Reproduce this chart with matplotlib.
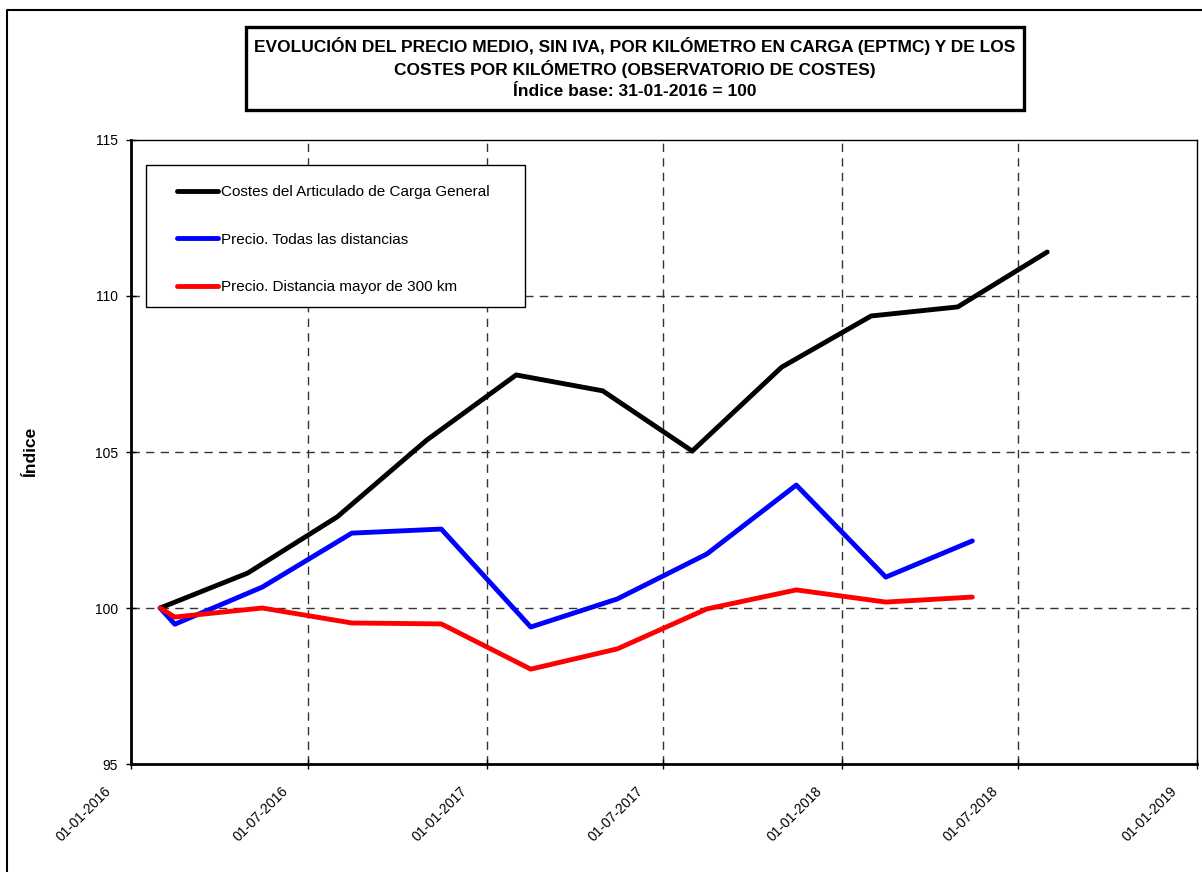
import datetime as dt
import matplotlib
matplotlib.use('Agg')
from matplotlib import pyplot as plt
import matplotlib.dates as mdates
import matplotlib.transforms as mtransforms
from matplotlib.patches import Rectangle
from matplotlib.lines import Line2D

plt.rcParams['font.family'] = ['Liberation Sans', 'DejaVu Sans']

# costes: end of each quarter
cost_dates = ['2016-01-31', '2016-04-30', '2016-07-31', '2016-10-31', '2017-01-31', '2017-04-30',
              '2017-07-31', '2017-10-31', '2018-01-31', '2018-04-30', '2018-07-31']
cost_vals = [100.0, 101.12, 102.92, 105.38, 107.47, 106.96, 105.03, 107.72, 109.36, 109.65, 111.41]

# precios: middle of the second month of each quarter
price_dates = ['2016-01-31', '2016-02-15', '2016-05-15', '2016-08-15', '2016-11-15', '2017-02-15',
               '2017-05-15', '2017-08-15', '2017-11-15', '2018-02-15', '2018-05-15']
price_all = [100.0, 99.48, 100.67, 102.40, 102.53, 99.39, 100.29, 101.73, 103.94, 100.99, 102.15]
price_300 = [100.0, 99.71, 100.0, 99.52, 99.49, 98.04, 98.69, 99.97, 100.58, 100.19, 100.35]

labels = ['Costes del Articulado de Carga General',
          'Precio. Todas las distancias',
          'Precio. Distancia mayor de 300 km']
tick_dates = ['2016-01-01', '2016-07-01', '2017-01-01', '2017-07-01', '2018-01-01', '2018-07-01', '2019-01-01']
title_lines = ['EVOLUCIÓN DEL PRECIO MEDIO, SIN IVA, POR KILÓMETRO EN CARGA (EPTMC) Y DE LOS',
               'COSTES POR KILÓMETRO (OBSERVATORIO DE COSTES)',
               'Índice base: 31-01-2016 = 100']


def to_dt(lst):
    return [dt.datetime.strptime(s, '%Y-%m-%d') for s in lst]


W, H = 1202, 872
fig = plt.figure(figsize=(W / 100, H / 100), dpi=100)
ax = fig.add_axes([131 / W, 1 - 764 / H, (1197 - 131) / W, (764 - 140) / H])

lw = 3.5
ax.plot(to_dt(cost_dates), cost_vals, color='black', lw=lw, solid_capstyle='round', label=labels[0], zorder=3)
ax.plot(to_dt(price_dates), price_all, color='#0000ff', lw=lw, solid_capstyle='round', label=labels[1], zorder=3)
ax.plot(to_dt(price_dates), price_300, color='#ff0000', lw=lw, solid_capstyle='round', label=labels[2], zorder=3)

ticks = to_dt(tick_dates)
ax.set_xlim(ticks[0], ticks[-1])
ax.set_ylim(95, 115)
ax.set_xticks(ticks)
ax.xaxis.set_major_formatter(mdates.DateFormatter('%d-%m-%Y'))
ax.set_yticks([95, 100, 105, 110, 115])

ax.tick_params(axis='both', direction='inout', length=7, width=1, labelsize=10, color='black')
ax.tick_params(axis='y', pad=6)
ax.tick_params(axis='x', pad=2)
shift = mtransforms.ScaledTranslation(-0.22, -0.17, fig.dpi_scale_trans)
for lab in ax.get_xticklabels():
    lab.set_rotation(45)
    lab.set_ha('right')
    lab.set_va('center')
    lab.set_rotation_mode('anchor')
    lab.set_transform(lab.get_transform() + shift)

for t in ticks[1:-1]:
    ax.axvline(t, color='#333333', lw=1.0, dashes=(6, 4.5), zorder=1)
for y in [100, 105, 110]:
    ax.axhline(y, color='#333333', lw=1.0, dashes=(6, 4.5), zorder=1)

for side in ['left', 'bottom']:
    ax.spines[side].set_linewidth(2.0)
for side in ['top', 'right']:
    ax.spines[side].set_linewidth(1.0)

ax.set_ylabel('Índice', fontsize=12.5, fontweight='bold')
ax.yaxis.set_label_coords(-0.087, 0.5)

# legend: frame drawn separately so its padding can differ per side
ax.add_patch(Rectangle((15 / 1066, 1 - 167 / 624), (525 - 146) / 1066, (307 - 165) / 624,
                       transform=ax.transAxes, fill=True, fc='white', ec='black', lw=1.0, zorder=4))
leg = ax.legend(loc='upper left', bbox_to_anchor=(46 / 1066, 1 - 45 / 624), borderaxespad=0,
                fontsize=11, handlelength=2.7, handletextpad=0.2, labelspacing=2.2,
                borderpad=0, frameon=False)
leg.set_zorder(5)

# title box
fig.add_artist(Rectangle((246 / W, 1 - 110 / H), (1024 - 246) / W, (110 - 27) / H,
                         transform=fig.transFigure, fill=False, lw=2.4, ec='black'))
for txt, yy in zip(title_lines, [46, 69, 91]):
    fig.text(635 / W, 1 - yy / H, txt, ha='center', va='center', fontsize=12.5, fontweight='bold')

# outer border (top and left)
fig.add_artist(Line2D([7 / W, 7 / W, 1], [0, 1 - 10 / H, 1 - 10 / H], transform=fig.transFigure,
                      color='black', lw=1.5))

fig.savefig('out.png', dpi=100)
